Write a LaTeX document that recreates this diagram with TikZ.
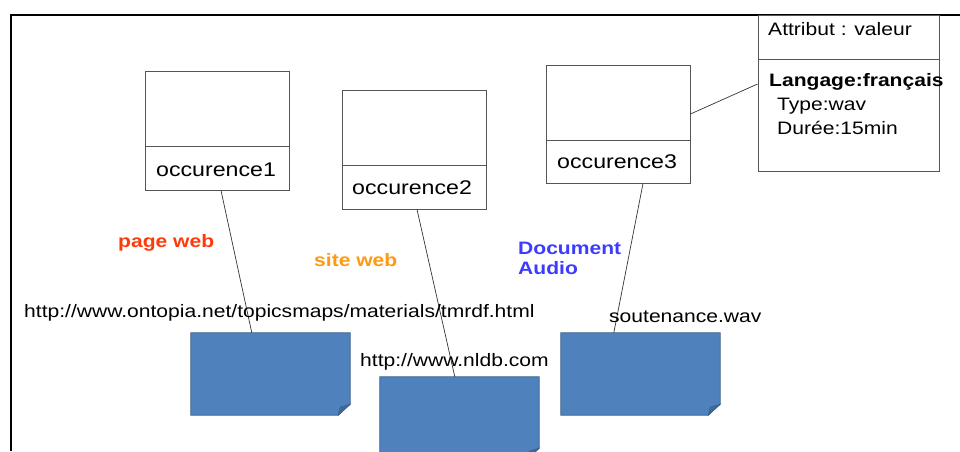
\documentclass[tikz,border=0pt]{standalone}
\usepackage{fontspec}
\setmainfont{Liberation Sans}[FakeStretch=1.17]
\usetikzlibrary{calc}
\definecolor{docblue}{HTML}{4F81BD}
\definecolor{docedge}{HTML}{3B5E86}
\definecolor{docfold}{HTML}{3F6A9C}
\definecolor{redlbl}{HTML}{FF3A0A}
\definecolor{orglbl}{HTML}{FF9910}
\definecolor{bluelbl}{HTML}{3C3CFF}
\definecolor{boxedge}{HTML}{555555}
\tikzset{
  box/.style={draw=boxedge, line width=0.9pt, inner sep=0, fill=white},
  txt/.style={inner sep=0, anchor=base west, font=\fontsize{18}{20}\selectfont},
  occtxt/.style={inner sep=0, anchor=base west, font=\fontsize{19.8}{22}\selectfont},
  tag/.style={inner sep=0, anchor=base west, font=\fontsize{18}{20}\selectfont\bfseries, align=left},
  conn/.style={draw=black!80, line width=0.7pt},
  docshape/.style={inner sep=0, draw=none},
}
\newcommand{\docpaper}[1]{%
  \fill[docblue] (#1.north west) -- (#1.north east) -- ($(#1.south east)+(0,-11)$) -- ($(#1.south east)+(-12,0)$) -- (#1.south west) -- cycle;
  \draw[docedge, line width=0.8pt] (#1.north west) -- (#1.north east) -- ($(#1.south east)+(0,-11)$) -- ($(#1.south east)+(-12,0)$) -- (#1.south west) -- cycle;
  \filldraw[fill=docfold, draw=docedge, line width=0.6pt] ($(#1.south east)+(0,-11)$) -- ($(#1.south east)+(-10,-8)$) -- ($(#1.south east)+(-12,0)$) -- cycle;
}
\begin{document}
\begin{tikzpicture}[x=1pt,y=-1pt]
\useasboundingbox (0,0) rectangle (960,451);
\clip (0,0) rectangle (960,451);
% frame
\draw[line width=2.4pt, black] (11,451) -- (11,15) -- (960,15);

% occurrence boxes
\node[box, minimum width=144pt, minimum height=119pt] (occ1) at (217,130.5) {};
\draw[boxedge, line width=0.9pt] (occ1.west |- 0,146) -- (occ1.east |- 0,146);
\node[occtxt] (occ1l) at (156,176) {occurence1};

\node[box, minimum width=144pt, minimum height=119pt] (occ2) at (414,149.5) {};
\draw[boxedge, line width=0.9pt] (occ2.west |- 0,165) -- (occ2.east |- 0,165);
\node[occtxt] (occ2l) at (352,194) {occurence2};

\node[box, minimum width=144pt, minimum height=118pt] (occ3) at (618,124) {};
\draw[boxedge, line width=0.9pt] (occ3.west |- 0,140) -- (occ3.east |- 0,140);
\node[occtxt] (occ3l) at (557,168) {occurence3};

% attribute box
\node[box, minimum width=181pt, minimum height=156pt] (attr) at (848.5,93) {};
\draw[boxedge, line width=0.9pt] (attr.west |- 0,59) -- (attr.east |- 0,59);
\node[txt] (attrh) at (768,35) {Attribut : valeur};
\node[txt, font=\fontsize{18}{20}\selectfont\bfseries] (lang) at (769,86) {Langage:français};
\node[txt] (type) at (777,110) {Type:wav};
\node[txt] (duree) at (777,134) {Durée:15min};

% documents
\node[docshape, minimum width=159pt, minimum height=82pt] (doc1) at (270.5,374) {};
\node[docshape, minimum width=159pt, minimum height=82pt] (doc2) at (459.5,418) {};
\node[docshape, minimum width=159pt, minimum height=82pt] (doc3) at (640.5,374) {};
\docpaper{doc1}
\docpaper{doc2}
\docpaper{doc3}

% connectors
\draw[conn] ($(occ1.south)+(4,0)$) -- ($(doc1.north west)+(61,0)$);
\draw[conn] ($(occ2.south)+(3,0)$) -- ($(doc2.north west)+(75,0)$);
\draw[conn] ($(occ3.south)+(25,0)$) -- ($(doc3.north west)+(53,0)$);
\draw[conn] ($(occ3.east)+(0,-10)$) -- ($(attr.west)+(0,-9)$);

% labels
\node[tag, text=redlbl] (pw) at (118,247) {page web};
\node[tag, text=orglbl] (sw) at (314,266) {site web};
\node[tag, text=bluelbl] (da) at (518,274) {Document\\Audio};
\node[txt] (url1) at (24,317) {http://www.ontopia.net/topicsmaps/materials/tmrdf.html};
\node[txt] (url2) at (360,366) {http://www.nldb.com};
\node[txt] (wav) at (609,322) {soutenance.wav};
\end{tikzpicture}
\end{document}
